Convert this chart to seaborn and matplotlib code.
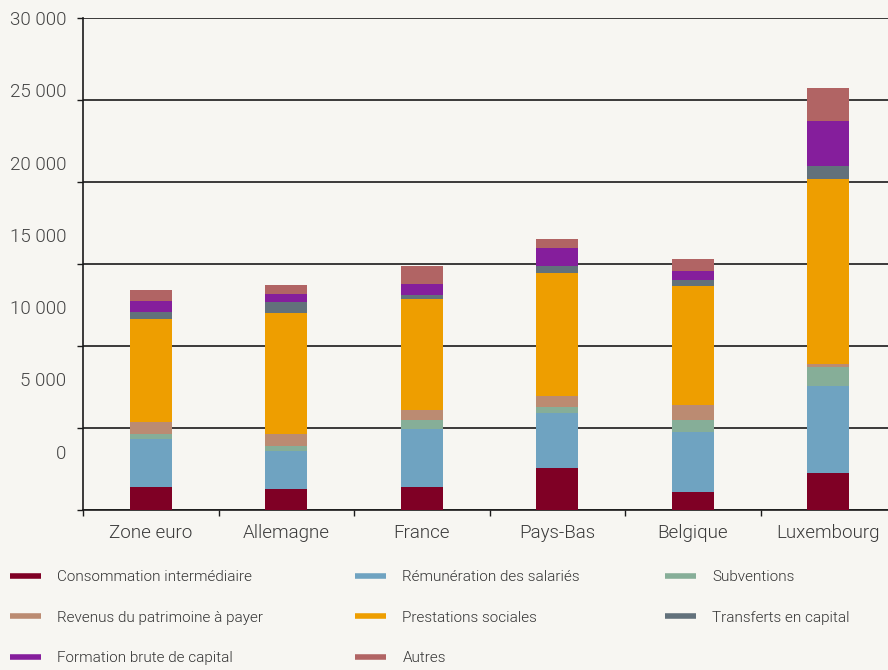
import matplotlib
matplotlib.use("Agg")
import matplotlib.pyplot as plt
from matplotlib.lines import Line2D
from matplotlib.ticker import FuncFormatter
import numpy as np
import pandas as pd
import seaborn as sns

# data (EUR per inhabitant)
pays = ["Zone euro", "Allemagne", "France", "Pays-Bas", "Belgique", "Luxembourg"]
consommation = [1400, 1280, 1400, 2560, 1100, 2260]
remuneration = [2930, 2320, 3540, 3360, 3660, 5310]
subventions = [310, 310, 550, 370, 730, 1160]
revenus = [730, 730, 610, 670, 920, 180]
prestations = [6290, 7390, 6780, 7510, 7260, 11290]
transferts = [430, 670, 240, 430, 370, 790]
formation = [670, 490, 670, 1100, 550, 2750]
autres = [670, 550, 1100, 550, 730, 2010]

series = ["Consommation intermédiaire", "Rémunération des salariés", "Subventions",
          "Revenus du patrimoine à payer", "Prestations sociales", "Transferts en capital",
          "Formation brute de capital", "Autres"]
values = [consommation, remuneration, subventions, revenus, prestations, transferts, formation, autres]
colors = ["#7f0025", "#6fa3c1", "#86ae98", "#bb8b72", "#ee9e00", "#62717b", "#851e9c", "#b16464"]

bg = "#f7f6f2"
sns.set_style("white")
plt.rcParams["font.family"] = ["Roboto", "DejaVu Sans"]
plt.rcParams["font.weight"] = 300

df = pd.DataFrame(dict(zip(series, values)), index=pays)
cum = df.cumsum(axis=1)

fig = plt.figure(figsize=(8.88, 6.70), dpi=100, facecolor=bg)
ax = fig.add_axes([83 / 888, 160 / 670, 813 / 888, 492 / 670])
ax.set_facecolor(bg)

# stacked bars: draw cumulative totals from top layer down
for name, col in zip(series[::-1], colors[::-1]):
    sns.barplot(x=pays, y=cum[name].values, color=col, width=0.31, saturation=1,
                linewidth=0, edgecolor="none", ax=ax, zorder=3)

ax.set_xlim(-0.5, 5.5)
ax.set_ylim(0, 30000)
ax.set_yticks(np.arange(0, 30001, 5000))
ax.set_yticklabels([])
ax.grid(axis="y", color="#1a1a1a", linewidth=1.2, zorder=0)
ax.set_axisbelow(True)
for s in ["top", "right"]:
    ax.spines[s].set_visible(False)
for s in ["left", "bottom"]:
    ax.spines[s].set_color("#1a1a1a")
    ax.spines[s].set_linewidth(1.2)
ax.tick_params(axis="y", which="major", length=4, width=1, color="#1a1a1a", direction="out", left=True)

# category boundaries as ticks, labels at the centres
ax.set_xticks(np.arange(-0.5, 6, 1))
ax.set_xticklabels([])
ax.set_xticks(np.arange(6), minor=True)
ax.set_xticklabels(pays, minor=True, fontsize=13.5, color="#3a3a3a", fontweight=300)
ax.tick_params(axis="x", which="major", length=4, width=1, color="#1a1a1a", direction="out", bottom=True)
ax.tick_params(axis="x", which="minor", length=0, pad=10)
ax.set_xlabel("")

# y labels sit on their own (compressed) scale, as in the original
k = 0.8815
sec = ax.secondary_yaxis("left", functions=(lambda y: 30000 - (30000 - y) / k,
                                            lambda v: 30000 - (30000 - v) * k))
sec.set_yticks(np.arange(0, 30001, 5000))
sec.yaxis.set_major_formatter(FuncFormatter(lambda v, p: f"{int(v):,}".replace(",", " ")))
sec.tick_params(length=0, pad=12, labelsize=13.5, labelcolor="#444444")
for t in sec.get_yticklabels():
    t.set_fontweight(300)
sec.spines["left"].set_visible(False)

# legend, three columns placed by hand
handles = [Line2D([], [], color=c, lw=4, solid_capstyle="butt") for c in colors]
cols = [[0, 3, 6], [1, 4, 7], [2, 5]]
xs = [10 / 888, 355 / 888, 665 / 888]
for idx, x0 in zip(cols, xs):
    fig.legend([handles[i] for i in idx], [series[i] for i in idx], loc="upper left",
               bbox_to_anchor=(x0, 1 - 570 / 670), frameon=False,
               prop={"size": 11, "weight": 300},
               handlelength=2.0, handletextpad=1.1, labelspacing=1.74, borderpad=0,
               borderaxespad=0, labelcolor="#333333")

fig.savefig("out.png", dpi=100, facecolor=bg)
